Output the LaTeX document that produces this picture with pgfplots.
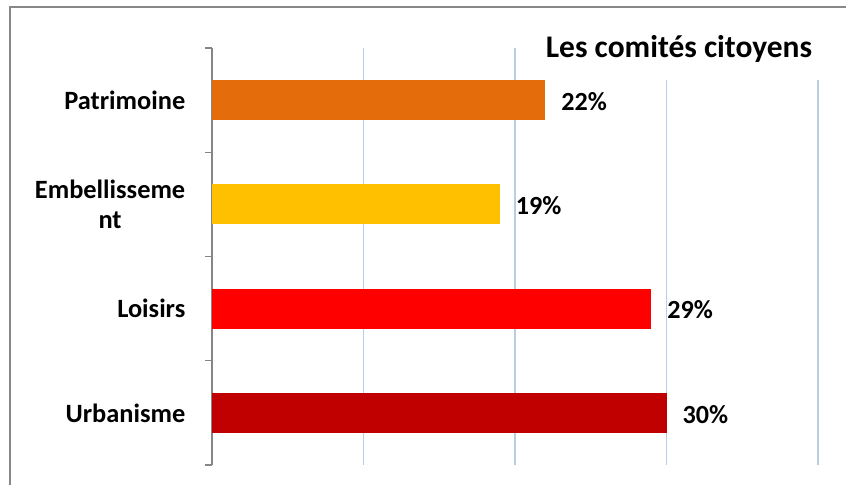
\documentclass[border=0pt]{standalone}
\usepackage{fontspec}
\setmainfont{Carlito}
\usepackage{pgfplots}
\pgfplotsset{compat=1.18}
\definecolor{bordergray}{HTML}{888888}
\definecolor{axisgray}{HTML}{868686}
\definecolor{gridblue}{HTML}{B9CDE5}
\definecolor{cPat}{HTML}{E46C0A}
\definecolor{cEmb}{HTML}{FFC000}
\definecolor{cLoi}{HTML}{FF0000}
\definecolor{cUrb}{HTML}{C00000}
\begin{document}
\begin{tikzpicture}
\path[use as bounding box] (0,0) rectangle (634.5pt,363.75pt);
\draw[color=bordergray, line width=1.2pt] (7.5pt,0) -- (7.5pt,358.5pt) -- (634.5pt,358.5pt);
\begin{axis}[
  at={(159pt,15pt)}, anchor=south west,
  scale only axis, width=454.5pt, height=312.75pt,
  xmin=0, xmax=40, ymin=-0.5, ymax=3.5,
  xbar, bar width=30pt, bar shift=0pt,
  axis y line*=left, axis x line*=bottom,
  x axis line style={draw=none},
  y axis line style={draw=axisgray, line width=1pt, -},
  xtick={10,20,30,40}, xticklabels={},
  xtick style={draw=none},
  xmajorgrids, major grid style={draw=gridblue, line width=1.1pt},
  ytick={-0.5,0.5,1.5,2.5,3.5}, yticklabels={},
  ytick style={draw=axisgray, line width=1pt},
  major tick length=5.5pt, tick align=outside,
  extra y ticks={0,1,2,3},
  extra y tick labels={Urbanisme,Loisirs,Embellisseme\\nt,Patrimoine},
  extra y tick style={major tick length=0pt, tick style={draw=none}},
  yticklabel style={align=center, font=\bfseries\fontsize{19.8}{23}\selectfont, xshift=-16.5pt},
  point meta=x,
  nodes near coords={\pgfmathprintnumber{\pgfplotspointmeta}\%},
  nodes near coords style={font=\bfseries\fontsize{19.6}{23}\selectfont, anchor=west, xshift=8.5pt, yshift=-1pt},
  /pgf/number format/assume math mode=true,
  clip=false,
]
\addplot[fill=cUrb, draw=none] coordinates {(30,0)};
\addplot[fill=cLoi, draw=none] coordinates {(29,1)};
\addplot[fill=cEmb, draw=none] coordinates {(19,2)};
\addplot[fill=cPat, draw=none] coordinates {(22,3)};
\end{axis}
\fill[white] (397.5pt,303.75pt) rectangle (624pt,334pt);
\node[anchor=base, font=\bfseries\fontsize{23.6}{28}\selectfont] at (509.25pt,320.25pt) {Les comités citoyens};
\end{tikzpicture}
\end{document}
